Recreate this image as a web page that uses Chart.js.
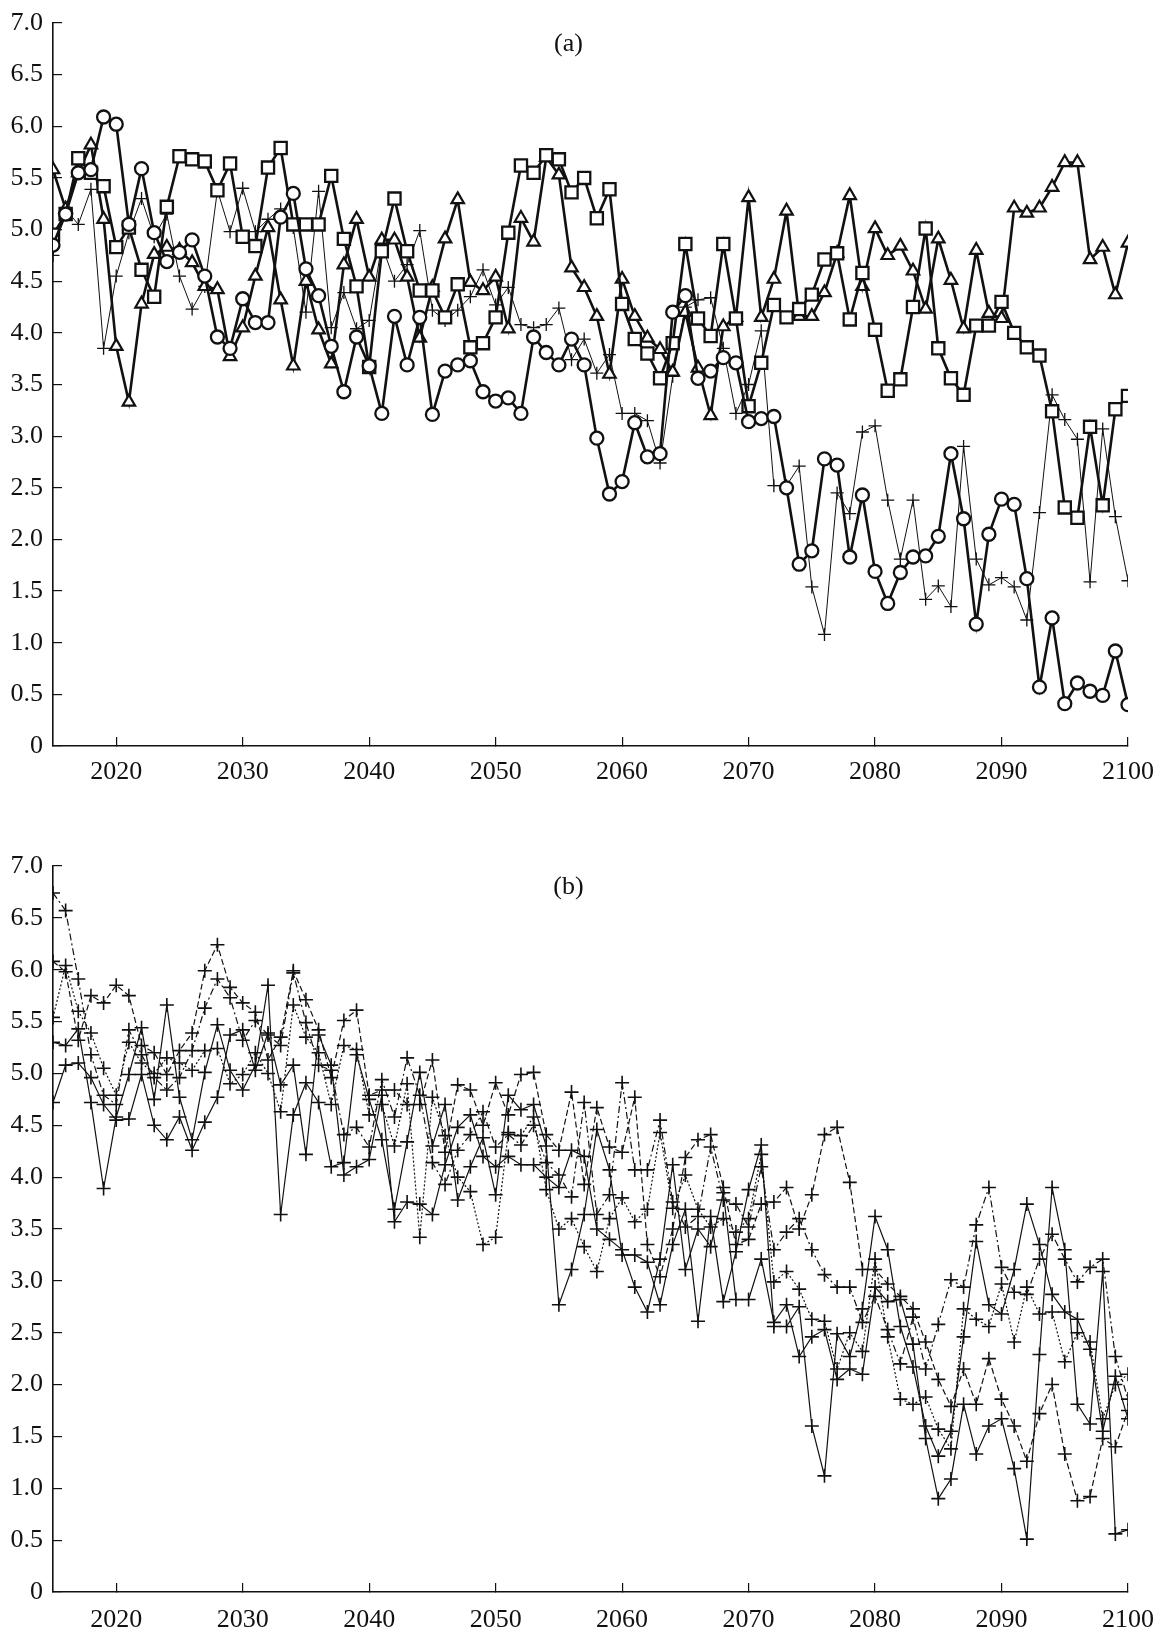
<!DOCTYPE html>
<html><head><meta charset="utf-8">
<script src="https://cdn.jsdelivr.net/npm/chart.js@4.4.1/dist/chart.umd.min.js"></script>
<style>
html,body{margin:0;padding:0;background:#fff;}
#ca{position:absolute;left:0;top:0;}
#cb{position:absolute;left:0;top:790px;}
</style></head><body>
<canvas id="ca" width="1157" height="790"></canvas>
<canvas id="cb" width="1157" height="838"></canvas>
<script>
const YEARS = [2015,2016,2017,2018,2019,2020,2021,2022,2023,2024,
2025,2026,2027,2028,2029,2030,2031,2032,2033,2034,
2035,2036,2037,2038,2039,2040,2041,2042,2043,2044,
2045,2046,2047,2048,2049,2050,2051,2052,2053,2054,
2055,2056,2057,2058,2059,2060,2061,2062,2063,2064,
2065,2066,2067,2068,2069,2070,2071,2072,2073,2074,
2075,2076,2077,2078,2079,2080,2081,2082,2083,2084,
2085,2086,2087,2088,2089,2090,2091,2092,2093,2094,
2095,2096,2097,2098,2099,2100];
const X_TICKS = [2020,2030,2040,2050,2060,2070,2080,2090,2100];
const Y_TICKS = [0,0.5,1,1.5,2,2.5,3,3.5,4,4.5,5,5.5,6,6.5,7];
const PANEL_A_LABEL = '(a)';
const PANEL_B_LABEL = '(b)';

// Panel (a)
const A_CIRCLES = [4.85,5.15,5.55,5.58,6.09,6.02,5.05,5.59,4.97,4.69,
4.78,4.90,4.55,3.96,3.85,4.33,4.10,4.10,5.12,5.35,
4.62,4.36,3.87,3.43,3.96,3.68,3.22,4.16,3.69,4.15,
3.21,3.63,3.69,3.73,3.43,3.34,3.37,3.22,3.96,3.81,
3.69,3.94,3.69,2.98,2.44,2.56,3.13,2.80,2.83,4.20,
4.36,3.56,3.63,3.76,3.71,3.14,3.17,3.19,2.50,1.76,
1.89,2.78,2.72,1.83,2.43,1.69,1.38,1.68,1.83,1.84,
2.03,2.83,2.20,1.18,2.05,2.39,2.34,1.62,0.57,1.24,
0.41,0.61,0.53,0.49,0.92,0.40];
const A_SQUARES = [4.95,5.15,5.69,5.55,5.42,4.83,5.02,4.61,4.35,5.22,
5.71,5.68,5.66,5.38,5.64,4.93,4.84,5.60,5.79,5.05,
5.05,5.05,5.52,4.91,4.45,3.67,4.79,5.30,4.79,4.41,
4.41,4.15,4.47,3.86,3.90,4.15,4.97,5.62,5.55,5.72,
5.68,5.36,5.50,5.11,5.39,4.28,3.94,3.80,3.56,3.90,
4.86,4.14,3.97,4.86,4.14,3.29,3.71,4.27,4.15,4.23,
4.37,4.71,4.77,4.13,4.58,4.03,3.44,3.55,4.25,5.01,
3.85,3.56,3.40,4.07,4.07,4.30,4.00,3.86,3.78,3.24,
2.31,2.21,3.09,2.33,3.26,3.39];
const A_TRIANGLES = [5.58,5.20,5.55,5.82,5.10,3.87,3.33,4.28,4.76,4.83,
4.80,4.68,4.45,4.42,3.77,4.05,4.55,5.02,4.32,3.68,
4.50,4.03,3.70,4.66,5.10,4.54,4.90,4.90,4.54,3.95,
4.44,4.91,5.29,4.49,4.41,4.54,4.04,5.11,4.88,5.70,
5.53,4.63,4.44,4.16,3.60,4.52,4.16,3.95,3.84,3.62,
4.20,3.66,3.20,4.06,4.15,5.31,4.15,4.52,5.18,4.16,
4.16,4.39,4.77,5.33,4.45,5.01,4.75,4.84,4.60,4.23,
4.91,4.51,4.04,4.80,4.19,4.14,5.21,5.16,5.21,5.41,
5.65,5.65,4.71,4.83,4.37,4.87];
const A_PLUS = [4.75,5.20,5.05,5.39,3.85,4.55,4.97,5.30,4.93,5.15,
4.55,4.23,4.45,5.38,4.98,5.40,4.98,5.10,5.20,5.02,
4.20,5.37,4.05,4.39,4.04,4.12,4.85,4.50,4.66,4.99,
4.22,4.12,4.22,4.35,4.61,4.27,4.44,4.08,4.05,4.08,
4.24,3.74,3.94,3.61,3.79,3.22,3.22,3.15,2.74,3.58,
4.25,4.32,4.34,3.85,3.22,3.50,4.02,2.52,2.52,2.71,
1.54,1.08,2.45,2.25,3.04,3.10,2.38,1.81,2.38,1.42,
1.55,1.35,2.90,1.81,1.56,1.63,1.54,1.22,2.26,3.40,
3.16,2.97,1.59,3.07,2.22,1.60];

// Panel (b)
const B_S1 = [6.74,6.57,5.91,5.18,4.79,4.70,5.42,5.18,4.96,4.84,
4.96,5.22,5.63,5.91,5.73,5.32,5.51,5.37,5.27,5.97,
5.49,5.08,5.03,4.41,4.48,4.29,4.94,4.58,5.15,4.79,
4.14,3.93,4.26,4.41,4.63,4.29,4.41,4.31,4.50,4.14,
4.02,3.81,4.72,3.64,3.83,4.91,4.07,4.07,4.55,3.76,
3.52,3.62,4.29,3.78,3.74,3.52,4.10,3.30,3.47,3.60,
3.30,3.06,2.94,2.94,2.60,2.85,2.53,2.20,2.65,2.15,
2.58,3.01,2.94,3.54,3.90,3.13,2.89,2.87,3.21,3.45,
3.21,2.99,3.13,3.21,2.27,1.86];
const B_S2 = [5.30,5.27,5.43,4.72,3.89,4.58,4.99,5.44,4.75,5.66,
4.77,4.36,5.01,5.47,5.03,4.84,5.08,5.85,3.64,4.60,
4.91,4.72,4.10,4.14,5.18,4.75,4.36,3.69,4.34,5.01,
4.30,4.70,3.78,4.10,4.38,3.83,4.79,4.65,4.70,4.30,
2.77,3.11,3.64,4.46,4.07,3.25,3.25,3.18,2.77,3.35,
3.69,2.61,3.62,2.80,3.28,3.88,4.31,2.56,2.56,2.75,
1.60,1.12,2.49,2.27,2.73,3.62,3.30,2.56,2.17,1.60,
1.31,1.55,2.46,3.38,2.77,2.68,3.11,3.74,3.35,2.87,
2.70,2.63,2.34,1.55,2.08,1.67];
const B_S3 = [6.08,5.98,5.32,5.75,5.68,5.85,5.75,5.27,5.20,4.99,
5.22,5.39,5.99,6.24,5.83,5.68,5.59,5.13,5.35,5.99,
5.71,5.42,4.96,5.51,5.61,4.79,4.84,4.84,4.70,4.70,
5.13,4.24,4.89,4.84,4.50,4.91,4.60,4.99,5.01,4.41,
4.26,4.82,3.93,4.67,4.29,4.24,4.77,3.35,3.04,3.50,
4.19,4.36,4.41,3.90,3.35,3.40,3.74,3.76,3.90,3.50,
3.83,4.41,4.48,3.95,3.11,3.11,2.97,2.85,2.73,2.41,
2.05,1.79,2.15,1.81,2.25,1.86,1.60,1.26,1.72,2.00,
1.33,0.88,0.92,1.48,1.40,1.75];
const B_S4 = [4.72,5.08,5.10,4.96,4.70,4.55,4.56,4.99,4.50,4.36,
4.58,4.26,4.53,4.77,5.37,5.42,5.03,5.39,4.89,5.08,
4.22,5.37,5.08,4.02,4.10,4.17,4.79,3.57,3.76,3.74,
3.64,4.12,4.48,4.60,4.20,4.10,4.20,4.12,4.12,4.00,
3.90,4.26,4.20,3.50,3.40,3.30,2.94,2.70,3.21,4.12,
3.11,3.50,3.33,3.85,2.82,2.82,3.21,2.60,2.77,2.27,
2.46,2.53,2.05,2.15,2.10,2.94,2.80,2.82,2.39,1.48,
0.90,1.09,1.81,1.33,1.60,1.67,1.19,0.51,2.29,3.90,
3.30,1.81,1.62,3.09,0.56,0.60];
const B_S5 = [5.54,6.04,5.60,5.39,5.05,4.79,5.30,5.10,5.00,5.15,
5.10,5.03,5.22,5.24,4.90,4.99,5.20,5.00,4.63,5.66,
5.35,5.20,4.70,5.27,5.23,4.60,4.70,4.30,4.90,3.42,
4.77,4.40,4.00,3.86,3.35,3.42,4.43,4.40,4.58,3.88,
3.50,3.60,3.33,3.09,3.60,3.80,3.57,3.69,4.43,3.70,
4.02,3.69,3.52,3.60,3.47,3.60,4.22,2.99,3.09,2.92,
2.63,2.61,2.15,2.50,2.32,3.21,2.46,1.86,1.81,1.88,
1.57,1.38,2.73,2.63,2.56,2.97,2.41,2.94,2.68,2.70,
2.22,2.50,2.41,1.67,2.00,2.10];

const FONT = '"Liberation Serif", "Times New Roman", serif';
const INK = '#111';

function pts(vals){ return YEARS.map((yr,i)=>({x:yr, y:vals[i]})); }

const panelLabel = {
  id:'panelLabel',
  afterDraw(chart, args, opts){
    const {ctx, chartArea} = chart;
    ctx.save();
    ctx.font = opts.size + 'px ' + FONT;
    ctx.fillStyle = INK;
    ctx.textAlign = 'center';
    ctx.textBaseline = 'middle';
    ctx.fillText(opts.text, chartArea.left + opts.fx*(chartArea.right-chartArea.left), chartArea.top + opts.dy);
    ctx.restore();
  }
};

function zeroPad(s){ s.paddingTop = 0; s.paddingBottom = 0; s.paddingLeft = 0; s.paddingRight = 0; }

function makeOptions(topPad, bottomBox, xPad, label){
  const axisCommon = {
    grid:{drawOnChartArea:false, drawTicks:true, tickLength:-9, color:INK, lineWidth:1.2},
    border:{display:true, color:INK, width:1.6}
  };
  return {
    responsive:false,
    animation:false,
    layout:{padding:{top:topPad, right:29, left:0, bottom:0}},
    plugins:{legend:{display:false}, tooltip:{enabled:false}, title:{display:false},
      panelLabel:{text:label, size:26, fx:0.4795, dy:21}},
    scales:{
      x:Object.assign({
        type:'linear', min:YEARS[0], max:YEARS[YEARS.length-1],
        afterBuildTicks:(s)=>{ s.ticks = X_TICKS.map(v=>({value:v})); },
        afterFit:(s)=>{ s.height = bottomBox; zeroPad(s); },
        ticks:{callback:(v)=>String(v), font:{family:FONT, size:26}, color:INK, padding:xPad, maxRotation:0, minRotation:0, autoSkip:false}
      }, axisCommon),
      y:Object.assign({
        type:'linear', min:0, max:7,
        afterBuildTicks:(s)=>{ s.ticks = Y_TICKS.map(v=>({value:v})); },
        afterFit:(s)=>{ s.width = 53; zeroPad(s); },
        ticks:{callback:(v)=> v===0 ? '0' : v.toFixed(1), font:{family:FONT, size:26}, color:INK, padding:19, autoSkip:false}
      }, axisCommon)
    },
    elements:{line:{tension:0}}
  };
}

function markerSet(vals, style, radius, lineW, ptW, dash){
  return {data:pts(vals), borderColor:INK, backgroundColor:'#fff', borderWidth:lineW, borderDash:dash||[],
    pointStyle:style, pointRadius:radius, pointBorderWidth:ptW, pointBackgroundColor:'#fff', pointBorderColor:INK, fill:false};
}

new Chart(document.getElementById('ca'), {
  type:'line',
  data:{datasets:[
    markerSet(A_CIRCLES,'circle',6.5,2.6,2.3),
    markerSet(A_SQUARES,'rect',8.6,2.6,2.3),
    markerSet(A_TRIANGLES,'triangle',7.2,2.6,2.2),
    markerSet(A_PLUS,'cross',6.5,1.0,1.3)
  ]},
  options:makeOptions(23, 44, 20, PANEL_A_LABEL),
  plugins:[panelLabel]
});

new Chart(document.getElementById('cb'), {
  type:'line',
  data:{datasets:[
    markerSet(B_S1,'cross',7,1.2,1.6,[7,3,2,3]),
    markerSet(B_S2,'cross',7,1.2,1.6),
    markerSet(B_S3,'cross',7,1.2,1.6,[6,3]),
    markerSet(B_S4,'cross',7,1.2,1.6),
    markerSet(B_S5,'cross',7,1.2,1.6,[2,2])
  ]},
  options:makeOptions(76, 36, 22, PANEL_B_LABEL),
  plugins:[panelLabel]
});
</script></body></html>
